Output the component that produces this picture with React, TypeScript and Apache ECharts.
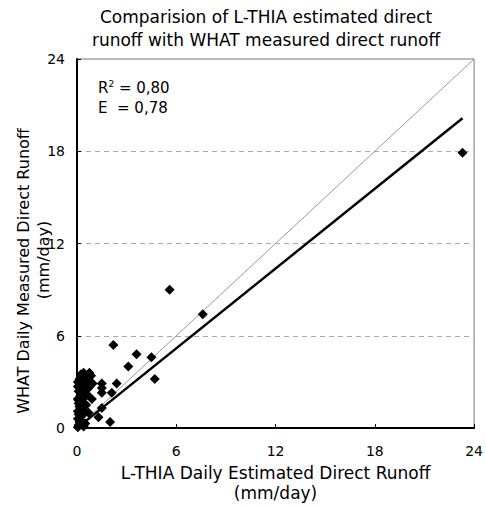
import React, { useEffect, useRef } from "react";
import * as echarts from "echarts";

// L-THIA estimated direct runoff (mm/day)
const estimated = [
  0.05, 0.1, 0.15, 0.05, 0.25, 0.1, 0.3, 0.05, 0.2, 0.4, 0.1, 0.3, 0.05, 0.2, 0.45, 0.1, 0.3,
  0.05, 0.2, 0.5, 0.35, 0.6, 0.15, 0.7, 0.8, 0.6, 0.9, 0.55, 0.7, 0.5, 0.4, 0.85, 0.95, 0.75,
  0.25, 0.4, 0.2, 0.35, 0.15, 0.45, 0.3, 0.55, 0.65, 0.05, 0.25, 0.1,
  1.5, 1.5, 1.5, 2.4, 2.1, 1.5, 1.3, 2.0, 3.1, 2.2, 3.6, 4.5, 4.7, 5.6, 7.6, 23.3,
];
// WHAT measured direct runoff (mm/day)
const measured = [
  0.05, 0.2, 0.4, 0.6, 0.5, 0.9, 0.8, 1.1, 1.3, 1.2, 1.6, 1.7, 1.9, 2.1, 2.0, 2.4, 2.5,
  2.7, 2.9, 2.8, 3.1, 3.3, 3.2, 2.6, 3.0, 2.2, 1.9, 1.5, 1.0, 0.3, 0.1, 3.4, 2.9, 3.6,
  3.5, 3.6, 2.6, 2.2, 1.4, 1.6, 1.0, 2.5, 3.0, 3.0, 0.25, 1.8,
  2.9, 2.6, 2.3, 2.9, 2.3, 1.3, 0.7, 0.4, 4.0, 5.4, 4.8, 4.6, 3.2, 9.0, 7.4, 17.9,
];
const fitX = [0, 23.3];
const fitY = [0, 20.15];
const refX = [0, 24];
const refY = [0, 24];
const axisTicks = [0, 6, 12, 18, 24];
const titleLines = [
  "Comparision of L-THIA estimated direct",
  "runoff with WHAT measured direct runoff",
];
const xTitle = "L-THIA Daily Estimated Direct Runoff\n(mm/day)";
const yTitleLines = ["WHAT Daily Measured Direct Runoff", "(mm/day)"];
const statsLines = ["R{sup|2} = 0,80", "E  = 0,78"];

const FONT = "'DejaVu Sans', 'Liberation Sans', sans-serif";

export default function App() {
  const ref = useRef<HTMLDivElement>(null);
  useEffect(() => {
    if (!ref.current) return;
    const chart = echarts.init(ref.current, undefined, { renderer: "svg" });
    const points = estimated.map((x, i) => [x, measured[i]]);
    const step = axisTicks[1] - axisTicks[0];
    chart.setOption({
      animation: false,
      backgroundColor: "#fff",
      textStyle: { fontFamily: FONT },
      grid: {
        left: 77,
        right: 6,
        top: 59,
        bottom: 69,
        show: true,
        borderColor: "#777",
        borderWidth: 1,
      },
      xAxis: {
        type: "value",
        min: axisTicks[0],
        max: axisTicks[axisTicks.length - 1],
        interval: step,
        axisLine: { show: true, lineStyle: { color: "#000", width: 2 } },
        axisTick: { show: true, inside: true, length: 4, lineStyle: { color: "#000" } },
        axisLabel: { margin: 16, fontSize: 14, color: "#000", fontFamily: FONT },
        splitLine: { show: false },
        name: xTitle,
        nameLocation: "middle",
        nameGap: 28,
        nameTextStyle: { fontSize: 17, lineHeight: 20, color: "#000", fontFamily: FONT },
      },
      yAxis: {
        type: "value",
        min: axisTicks[0],
        max: axisTicks[axisTicks.length - 1],
        interval: step,
        axisLine: { show: true, lineStyle: { color: "#000", width: 2 } },
        axisTick: { show: true, inside: true, length: 4, lineStyle: { color: "#000" } },
        axisLabel: { margin: 12, fontSize: 14, color: "#000", fontFamily: FONT },
        splitLine: {
          show: true,
          showMinLine: false,
          showMaxLine: false,
          lineStyle: { color: "#aaa", type: [5, 4], width: 1 },
        },
      },
      graphic: [
        ...titleLines.map((t, i) => ({
          type: "text",
          x: 266,
          y: 17 + i * 23,
          style: {
            text: t,
            fill: "#000",
            font: `17px ${FONT}`,
            textAlign: "center",
            textVerticalAlign: "middle",
          },
        })),
        ...yTitleLines.map((t, i) => ({
          type: "text",
          x: 23 + i * 20,
          y: i === 0 ? 271 : 260,
          rotation: Math.PI / 2,
          style: {
            text: t,
            fill: "#000",
            font: `16px ${FONT}`,
            textAlign: "center",
            textVerticalAlign: "middle",
          },
        })),
        ...statsLines.map((t, i) => ({
          type: "text",
          x: 98,
          y: 88 + i * 20,
          style: {
            text: t,
            fill: "#000",
            font: `15px ${FONT}`,
            textVerticalAlign: "middle",
            rich: {
              sup: { fontSize: 9, verticalAlign: "top", padding: [0, 0, 8, 0], fontFamily: FONT },
            },
          },
        })),
      ],
      series: [
        {
          type: "line",
          data: refX.map((x, i) => [x, refY[i]]),
          showSymbol: false,
          symbol: "none",
          lineStyle: { color: "#999", width: 1 },
          z: 1,
          silent: true,
        },
        {
          type: "scatter",
          data: points,
          symbol: "diamond",
          symbolSize: 10,
          itemStyle: { color: "#000", opacity: 1 },
          z: 2,
        },
        {
          type: "line",
          data: fitX.map((x, i) => [x, fitY[i]]),
          showSymbol: false,
          symbol: "none",
          lineStyle: { color: "#000", width: 2.5 },
          z: 3,
          silent: true,
        },
      ],
    });
    return () => chart.dispose();
  }, []);
  return <div ref={ref} style={{ width: 486, height: 508, position: "absolute", left: 0, top: 0 }} />;
}
